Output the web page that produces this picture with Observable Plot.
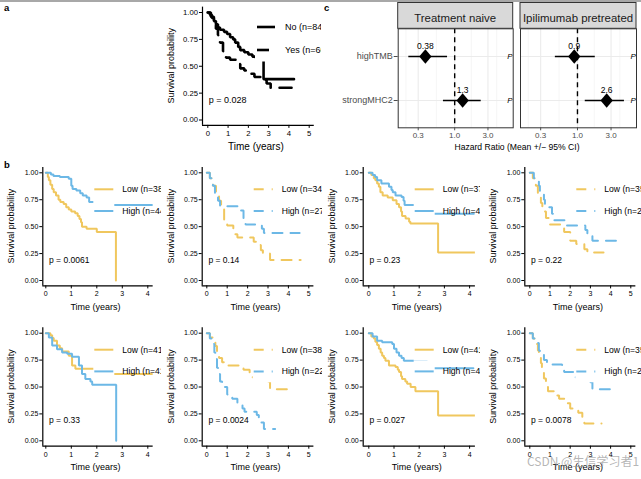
<!DOCTYPE html>
<html><head><meta charset="utf-8">
<script src="https://cdn.jsdelivr.net/npm/d3@7"></script>
<script src="https://cdn.jsdelivr.net/npm/@observablehq/plot@0.6"></script>
<style>
body{margin:0;background:#fff;}
#root{position:relative;width:641px;height:479px;overflow:hidden;background:#fff;font-family:"Liberation Sans",Arial,sans-serif;}
.cell{position:absolute;}
#topline{position:absolute;left:0;top:0;width:641px;height:2px;background:#a8a8a8;}
</style></head><body><div id="root"><div id="topline"></div></div>
<script>
// ---------- DATA ----------
// Panel a: [time (years), survival]
const a_no  = [[0,1],[0.1,0.98],[0.2,0.95],[0.3,0.92],[0.4,0.89],[0.5,0.86],[0.6,0.84],[0.8,0.82],[0.95,0.80],[1.1,0.77],[1.25,0.75],[1.35,0.72],[1.5,0.68],[1.6,0.65],[1.8,0.63],[2.0,0.61],[2.2,0.59],[2.35,0.58],[2.75,0.38],[4.25,0.38]];
const a_yes = [[0,1],[0.15,0.96],[0.3,0.92],[0.4,0.85],[0.5,0.79],[0.6,0.72],[0.75,0.64],[0.9,0.58],[1.1,0.56],[1.4,0.52],[1.6,0.48],[1.8,0.46],[2.0,0.43],[2.3,0.40],[2.6,0.37],[2.9,0.34],[3.1,0.30],[4.3,0.30]];
const a_labels = ["No (n=84)","Yes (n=60)"];
const a_p = "p = 0.028";

// Panel b, row 1
const b11_low  = [[0,1],[0.08,0.96],[0.12,0.93],[0.18,0.89],[0.25,0.85],[0.31,0.82],[0.4,0.79],[0.5,0.75],[0.57,0.73],[0.7,0.71],[0.8,0.68],[0.9,0.66],[1.0,0.64],[1.15,0.625],[1.25,0.6],[1.32,0.57],[1.38,0.54],[1.42,0.5],[1.6,0.48],[2.0,0.45],[2.75,0]];
const b11_high = [[0,1],[0.2,0.985],[0.3,0.97],[0.55,0.96],[0.9,0.945],[1.0,0.88],[1.05,0.85],[1.2,0.835],[1.35,0.81],[1.45,0.79],[1.6,0.77],[1.7,0.73],[2.3,0.70],[4.2,0.70]];
const b12_low  = [[0,1],[0.15,0.95],[0.3,0.88],[0.45,0.81],[0.6,0.74],[0.7,0.66],[0.85,0.56],[1.0,0.51],[1.3,0.43],[1.5,0.40],[2.3,0.36],[2.5,0.33],[2.65,0.28],[2.75,0.25],[3.1,0.19],[4.6,0.19]];
const b12_high = [[0,1],[0.15,0.95],[0.3,0.88],[0.4,0.8],[0.55,0.74],[0.65,0.69],[1.6,0.65],[1.8,0.57],[1.9,0.52],[2.7,0.48],[2.8,0.44],[4.55,0.44]];
const b13_low  = [[0,1],[0.1,0.98],[0.2,0.95],[0.26,0.93],[0.33,0.9],[0.4,0.87],[0.46,0.82],[0.55,0.79],[0.75,0.77],[0.95,0.745],[1.1,0.71],[1.2,0.68],[1.28,0.64],[1.32,0.6],[1.46,0.575],[1.6,0.545],[1.65,0.53],[2.75,0.26],[4.23,0.26]];
const b13_high = [[0,1],[0.15,0.98],[0.25,0.96],[0.33,0.93],[0.5,0.9],[0.8,0.87],[0.9,0.84],[0.95,0.82],[1.06,0.79],[1.3,0.775],[1.38,0.74],[1.42,0.70],[2.3,0.62],[4.17,0.62]];
const b14_low  = [[0,1],[0.15,0.95],[0.3,0.88],[0.4,0.8],[0.55,0.72],[0.62,0.64],[0.8,0.58],[0.95,0.52],[1.6,0.49],[1.7,0.45],[2.0,0.37],[2.3,0.34],[2.7,0.29],[2.85,0.26],[3.65,0.26]];
const b14_high = [[0,1],[0.2,0.95],[0.45,0.88],[0.5,0.8],[0.7,0.75],[0.75,0.68],[1.1,0.62],[1.15,0.56],[1.8,0.51],[2.75,0.47],[2.85,0.42],[3.1,0.37],[4.6,0.37]];
// Panel b, row 2
const b21_low  = [[0,1],[0.18,0.98],[0.25,0.955],[0.31,0.93],[0.44,0.885],[0.55,0.86],[0.64,0.83],[0.9,0.79],[1.03,0.70],[1.16,0.67],[2.2,0.62],[4.2,0.62]];
const b21_high = [[0,1],[0.12,0.96],[0.25,0.885],[0.44,0.85],[0.64,0.82],[0.84,0.81],[1.03,0.78],[1.3,0.70],[1.42,0.62],[1.55,0.575],[1.75,0.55],[1.82,0.52],[2.76,0]];
const b22_low  = [[0,1],[0.15,0.96],[0.3,0.92],[0.42,0.88],[0.5,0.81],[0.6,0.77],[0.75,0.73],[0.85,0.70],[1.8,0.66],[2.1,0.59],[3.0,0.55],[3.1,0.48],[4.2,0.48]];
const b22_high = [[0,1],[0.15,0.95],[0.3,0.9],[0.37,0.82],[0.42,0.76],[0.5,0.68],[0.55,0.62],[0.65,0.55],[0.75,0.5],[1.0,0.43],[1.25,0.39],[1.5,0.35],[1.75,0.3],[1.85,0.27],[2.45,0.24],[2.55,0.17],[2.8,0.11],[3.35,0.11]];
const b23_low  = [[0,1],[0.1,0.97],[0.2,0.95],[0.26,0.92],[0.33,0.89],[0.4,0.855],[0.47,0.82],[0.53,0.79],[0.6,0.77],[0.66,0.745],[0.8,0.70],[1.06,0.685],[1.15,0.66],[1.2,0.64],[1.28,0.6],[1.32,0.575],[1.45,0.55],[1.52,0.53],[1.66,0.5],[1.85,0.46],[2.75,0.235],[4.23,0.235]];
const b23_high = [[0,1],[0.15,0.97],[0.33,0.93],[0.53,0.915],[0.93,0.9],[1.0,0.855],[1.1,0.82],[1.2,0.79],[1.3,0.77],[1.39,0.745],[2.3,0.675],[4.15,0.675]];
const b24_low  = [[0,1],[0.15,0.95],[0.3,0.9],[0.4,0.84],[0.45,0.8],[0.55,0.72],[0.6,0.65],[0.7,0.58],[0.8,0.5],[0.9,0.46],[1.3,0.42],[1.45,0.39],[1.8,0.35],[2.0,0.3],[2.4,0.26],[2.6,0.22],[2.7,0.16],[3.55,0.16]];
const b24_high = [[0,1],[0.15,0.95],[0.3,0.91],[0.45,0.84],[0.5,0.8],[0.7,0.75],[0.85,0.71],[1.6,0.68],[1.7,0.64],[2.2,0.59],[3.0,0.545],[3.1,0.48],[4.3,0.48]];
const b_labels = [
  ["Low (n=38)","High (n=44)"],["Low (n=34)","High (n=27)"],["Low (n=37)","High (n=45)"],["Low (n=35)","High (n=25)"],
  ["Low (n=41)","High (n=41)"],["Low (n=38)","High (n=22)"],["Low (n=41)","High (n=41)"],["Low (n=35)","High (n=25)"]];
const b_p = ["p = 0.0061","p = 0.14","p = 0.23","p = 0.22","p = 0.33","p = 0.0024","p = 0.027","p = 0.0078"];

// Panel c (forest)
const fvars = ["highTMB","strongMHC2"];
const fgroups = ["Treatment naive","Ipilimumab pretreated"];
const naiveHR = [0.38, 1.3], naiveLo = [0.22, 0.69], naiveHi = [0.79, 2.4], naiveP = ["P=0.011","P=0.42"];
const preHR = [0.9, 2.6], preLo = [0.485, 1.29], preHi = [1.79, 4.65], preP = ["P=0.76","P=0.004"];
const hrTicks = [0.3, 1, 3];
const kmYTicks = [0, 0.25, 0.5, 0.75, 1];

// ---------- DRAW ----------
const FONT = '"Liberation Sans", Arial, Helvetica, sans-serif';
const LOW = "#F0C75E", HIGH = "#6CB8E6";
const root = document.getElementById("root");

function place(node, left, top) {
  const d = document.createElement("div");
  d.className = "cell"; d.style.left = left + "px"; d.style.top = top + "px";
  d.appendChild(node); root.appendChild(d);
}

function km(c) {
  const xlo = (c.axisX - c.x0) / c.ppy;
  const u = c.yBot - c.yTop;
  const topPx = c.yTop - 0.05 * u, botPx = c.yBot + 0.05 * u;
  const rightPx = c.x0 + c.xhi * c.ppy;
  const marks = [];
  c.series.forEach(s => marks.push(Plot.line(s.data, {x: d => d[0], y: d => d[1], curve: "step-after",
    stroke: s.color, strokeWidth: s.w, strokeDasharray: s.dash || null, strokeLinejoin: "miter", clip: true})));
  marks.push(Plot.ruleX([xlo], {stroke: "black", strokeWidth: 1.2}));
  marks.push(Plot.ruleY([-0.05], {stroke: "black", strokeWidth: 1.2}));
  marks.push(Plot.axisX({ticks: c.xticks, tickFormat: d3.format("d"), tickSize: 3, tickPadding: 2.5, fontSize: c.fs.tick, label: null}));
  marks.push(Plot.axisY({ticks: kmYTicks, tickFormat: d3.format(".2f"), tickSize: 3, tickPadding: 1.5, fontSize: c.fs.tick, label: null}));
  const svg = Plot.plot({
    width: c.width, height: c.height,
    marginLeft: c.axisX - c.left, marginRight: c.width - (rightPx - c.left),
    marginTop: topPx - c.top, marginBottom: c.top + c.height - botPx,
    x: {domain: [xlo, c.xhi]}, y: {domain: [-0.05, 1.05]},
    style: {fontFamily: FONT, background: "transparent", overflow: "hidden", color: "black"},
    marks
  });
  const g = d3.select(svg).append("g").attr("text-anchor", "start");
  const L = c.leg, ax = c.axisX - c.left;
  c.series.forEach((s, i) => {
    const cy = c.yTop + L.dys[i] - c.top;
    g.append("rect").attr("x", ax + L.rx0).attr("y", cy - L.h / 2).attr("width", L.rx1 - L.rx0).attr("height", L.h).attr("fill", "white");
  });
  c.series.forEach((s, i) => {
    const cy = c.yTop + L.dys[i] - c.top;
    g.append("line").attr("x1", ax + L.lx0).attr("x2", ax + L.lx1).attr("y1", cy).attr("y2", cy)
      .attr("stroke", s.color).attr("stroke-width", s.w).attr("stroke-dasharray", s.dash || null);
    g.append("text").attr("text-anchor", "start").attr("x", ax + L.tx).attr("y", cy).attr("dy", "0.35em")
      .attr("font-size", c.fs.leg).attr("fill", "black").text(c.labels[i]);
  });
  g.append("text").attr("text-anchor", "start").attr("x", ax + 6.7).attr("y", c.yTop + 87.7 - c.top).attr("dy", "0.35em")
    .attr("font-size", c.fs.p).attr("fill", "black").text(c.p);
  g.append("text").attr("x", (c.axisX + rightPx) / 2 - 2 - c.left).attr("y", botPx + 21.5 - c.top).attr("dy", "0.35em")
    .attr("text-anchor", "middle").attr("font-size", c.fs.title).attr("fill", "black").text("Time (years)");
  const yc = (topPx + botPx) / 2 - c.top, xc = ax - 31;
  g.append("text").attr("transform", `translate(${xc},${yc}) rotate(-90)`).attr("dy", "0.35em")
    .attr("text-anchor", "middle").attr("font-size", c.fs.ytitle).attr("fill", "black").text("Survival probability");
  place(svg, c.left, c.top);
}

// Panel a
km({left: 160, top: 0, width: 161, height: 158, axisX: 202, x0: 207.3, ppy: 20.28, xhi: 5.25, yTop: 12, yBot: 119.5,
  xticks: [0,1,2,3,4,5],
  series: [{data: a_no, color: "black", w: 2.6}, {data: a_yes, color: "black", w: 2.6, dash: "12,9"}],
  labels: a_labels, p: a_p,
  leg: {rx0: 53, rx1: 76, lx0: 55, lx1: 73, tx: 83, dys: [15, 38], h: 23},
  fs: {tick: 7.7, title: 10, ytitle: 9, leg: 9, p: 9}});

// Panel b
const cols = [
  {left: 0, width: 161, axisX: 42.3, x0: 45.3, ppy: 25.5, xhi: 4.21, xticks: [0,1,2,3,4]},
  {left: 165, width: 157, axisX: 201.7, x0: 206.3, ppy: 20.4, xhi: 5.25, xticks: [0,1,2,3,4,5]},
  {left: 325, width: 155, axisX: 362.7, x0: 368.3, ppy: 25.2, xhi: 4.23, xticks: [0,1,2,3,4]},
  {left: 486, width: 155, axisX: 524.3, x0: 529.3, ppy: 20.2, xhi: 5.25, xticks: [0,1,2,3,4,5]}];
const rowsB = [{top: 160, height: 160, yTop: 172.3, yBot: 280}, {top: 320, height: 159, yTop: 332.7, yBot: 440.3}];
const bData = [[b11_low,b11_high],[b12_low,b12_high],[b13_low,b13_high],[b14_low,b14_high],
               [b21_low,b21_high],[b22_low,b22_high],[b23_low,b23_high],[b24_low,b24_high]];
bData.forEach((pair, k) => {
  const col = cols[k % 4], row = rowsB[Math.floor(k / 4)];
  const dash = (k % 2 === 1) ? "10,8" : null;
  km(Object.assign({}, col, row, {
    series: [{data: pair[0], color: LOW, w: 2, dash}, {data: pair[1], color: HIGH, w: 2, dash}],
    labels: b_labels[k], p: b_p[k],
    leg: {rx0: 51, rx1: 72, lx0: 52, lx1: 71, tx: 80, dys: [17, 38.7], h: 21.7},
    fs: {tick: 7, title: 9, ytitle: 8.9, leg: 8.6, p: 8.5}}));
});

// Panel c
const diamond = {draw(ctx, size) {
  const s = Math.sqrt(size / Math.PI), hw = s * 0.88, hh = s * 1.05;
  ctx.moveTo(0, -hh); ctx.lineTo(hw, 0); ctx.lineTo(0, hh); ctx.lineTo(-hw, 0); ctx.closePath();
}};
function forest(c) {
  const rows = fvars.map((v, i) => ({v, hr: c.hr[i], lo: c.lo[i], hi: c.hi[i], lab: String(c.hr[i]), p: c.pv[i]}));
  const minor = [0.2, Math.sqrt(0.3), Math.sqrt(3), 4];
  const pX = 5.66;
  const marks = [
    Plot.ruleX(minor, {stroke: "#f2f2f2", strokeWidth: 0.7}),
    Plot.ruleX(hrTicks, {stroke: "#ebebeb", strokeWidth: 1.1}),
    Plot.ruleY(fvars, {stroke: "#ebebeb", strokeWidth: 1.1}),
    Plot.ruleX([1], {stroke: "black", strokeWidth: 1.4, strokeDasharray: "5,4"}),
    Plot.ruleY(rows, {y: "v", x1: "lo", x2: "hi", stroke: "black", strokeWidth: 1.6}),
    Plot.dot(rows, {x: "hr", y: "v", r: 7, symbol: diamond, fill: "black", stroke: null}),
    Plot.text(rows, {x: "hr", y: "v", text: "lab", dy: -10.5, fontSize: 8.5, fill: "black"}),
    Plot.text(rows, {x: () => pX, y: "v", text: "p", textAnchor: "start", fontStyle: "italic", fontSize: 8, fill: "black", clip: true}),
    Plot.frame({stroke: "#333", strokeWidth: 1}),
    Plot.axisX({ticks: hrTicks, tickFormat: d3.format(".1f"), tickSize: 3, tickPadding: 2, fontSize: 8, label: null})
  ];
  if (c.showY) marks.push(Plot.axisY({tickSize: 4, tickPadding: 1.5, fontSize: 9, label: null}));
  const svg = Plot.plot({
    width: c.width, height: c.height,
    marginLeft: c.panelL - c.left, marginRight: c.left + c.width - c.panelR,
    marginTop: 28.3, marginBottom: c.height - 127.3,
    x: {type: "log", domain: [0.155, 6.9]},
    y: {type: "point", domain: fvars, padding: 0.6, axis: c.showY ? undefined : null},
    style: {fontFamily: FONT, background: "transparent", overflow: "hidden", color: "#4d4d4d"},
    marks
  });
  const g = d3.select(svg).append("g");
  g.append("rect").attr("x", c.panelL - c.left).attr("y", 2.5).attr("width", c.panelR - c.panelL).attr("height", 25.8)
    .attr("fill", "#d9d9d9").attr("stroke", "#333").attr("stroke-width", 1);
  g.append("text").attr("x", (c.panelL + c.panelR) / 2 - c.left).attr("y", 18).attr("dy", "0.35em")
    .attr("text-anchor", "middle").attr("font-size", 11.4).attr("fill", "#1a1a1a").text(c.strip);
  place(svg, c.left, 0);
}
forest({left: 330, width: 187, height: 155, panelL: 397.7, panelR: 512.7, hr: naiveHR, lo: naiveLo, hi: naiveHi, pv: naiveP, strip: fgroups[0], showY: true});
forest({left: 517, width: 124, height: 155, panelL: 520, panelR: 636, hr: preHR, lo: preLo, hi: preHi, pv: preP, strip: fgroups[1], showY: false});

// Overlay: panel letters, shared x title, watermark
const ov = d3.select(root).append("svg").attr("width", 641).attr("height", 479)
  .style("position", "absolute").style("left", 0).style("top", 0).style("pointer-events", "none").style("font-family", FONT);
[["a", 4, 8], ["b", 4, 165], ["c", 324, 8]].forEach(([t, x, y]) =>
  ov.append("text").attr("x", x).attr("y", y).attr("dy", "0.35em").attr("font-size", 9.5).attr("font-weight", "bold").text(t));
ov.append("text").attr("x", 517).attr("y", 146.7).attr("dy", "0.35em").attr("text-anchor", "middle").attr("font-size", 8.6)
  .attr("fill", "black").text("Hazard Ratio (Mean +/\u2212 95% CI)");
ov.append("text").attr("x", 527).attr("y", 462).attr("dy", "0.35em").attr("font-size", 12)
  .attr("font-family", '"Noto Sans CJK SC", "Liberation Sans", sans-serif').attr("fill", "rgba(150,150,150,0.7)").text("CSDN @生信学习者1");
</script></body></html>
